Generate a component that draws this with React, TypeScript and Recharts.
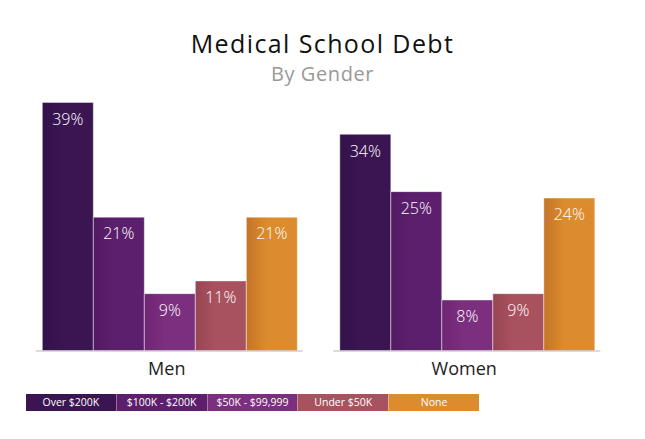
import React from "react";
import { BarChart, Bar, XAxis, YAxis, LabelList } from "recharts";

const groups = ["Men", "Women"];
const debtLevels = ["Over $200K", "$100K - $200K", "$50K - $99,999", "Under $50K", "None"];
const over200k = [39, 34];
const from100kTo200k = [21, 25];
const from50kTo99k = [9, 8];
const under50k = [11, 9];
const noDebt = [21, 24];

const seriesKeys = ["over200k", "from100k", "from50k", "under50k", "none"];
const colors = ["#3a1552", "#5c1f6d", "#7c2e7f", "#a9525f", "#dc8b2e"];
const darkEdge = ["#33124a", "#521a62", "#6e2672", "#974553", "#c47427"];

const data = groups.map((g, i) => ({
  group: g,
  over200k: over200k[i],
  from100k: from100kTo200k[i],
  from50k: from50kTo99k[i],
  under50k: under50k[i],
  none: noDebt[i],
}));

const FONT = "'Open Sans', Lato, sans-serif";

function GroupTick(props: any) {
  const { x, y, payload } = props;
  return (
    <g>
      <line x1={x - 133} x2={x + 134} y1={y} y2={y} stroke="#cfcfcf" strokeWidth={1.5} />
      <text x={x - 2} y={y + 24} textAnchor="middle" fontSize={18} fill="#222" fontFamily={FONT}>
        {payload.value}
      </text>
    </g>
  );
}

export default function App() {
  return (
    <div style={{ position: "absolute", left: 0, top: 0, width: 645, height: 439, background: "#fff", fontFamily: FONT }}>
      <div style={{ position: "absolute", top: 26, width: 645, textAlign: "center", fontSize: 25, lineHeight: "34px", letterSpacing: 1.4, color: "#111" }}>
        Medical School Debt
      </div>
      <div style={{ position: "absolute", top: 60, width: 645, textAlign: "center", fontSize: 20, lineHeight: "28px", letterSpacing: 0.6, color: "#999" }}>
        By Gender
      </div>
      <BarChart
        width={645}
        height={439}
        data={data}
        margin={{ top: 96, right: 30, bottom: 58, left: 20 }}
        barCategoryGap="7.5%"
        barGap={0}
      >
        <defs>
          {seriesKeys.map((k, i) => (
            <linearGradient key={k} id={`grad-${k}`} x1="0" y1="0" x2="1" y2="0">
              <stop offset="0%" stopColor={darkEdge[i]} />
              <stop offset="40%" stopColor={colors[i]} />
              <stop offset="100%" stopColor={colors[i]} />
            </linearGradient>
          ))}
        </defs>
        <XAxis dataKey="group" axisLine={false} tickLine={false} tickSize={0} tickMargin={0} height={30} tick={<GroupTick />} />
        <YAxis hide domain={[0, 40]} />
        {seriesKeys.map((k, i) => (
          <Bar
            key={k}
            dataKey={k}
            name={debtLevels[i]}
            fill={`url(#grad-${k})`}
            stroke="rgba(255,255,255,0.45)"
            strokeWidth={1}
            isAnimationActive={false}
          >
            <LabelList
              dataKey={k}
              position="insideTop"
              offset={11}
              fill="#fff"
              fontSize={16}
              fontWeight={300}
              fontFamily={FONT}
              formatter={(v: any) => `${v}%`}
            />
          </Bar>
        ))}
      </BarChart>
      <div style={{ position: "absolute", left: 26, top: 394, width: 453, height: 17, display: "flex" }}>
        {debtLevels.map((d, i) => (
          <div
            key={d}
            style={{
              flex: 1,
              background: colors[i],
              color: "#fff",
              fontSize: 10.5,
              lineHeight: "17px",
              textAlign: "center",
              borderLeft: i > 0 ? "1px solid rgba(255,255,255,0.35)" : "none",
            }}
          >
            {d}
          </div>
        ))}
      </div>
    </div>
  );
}
